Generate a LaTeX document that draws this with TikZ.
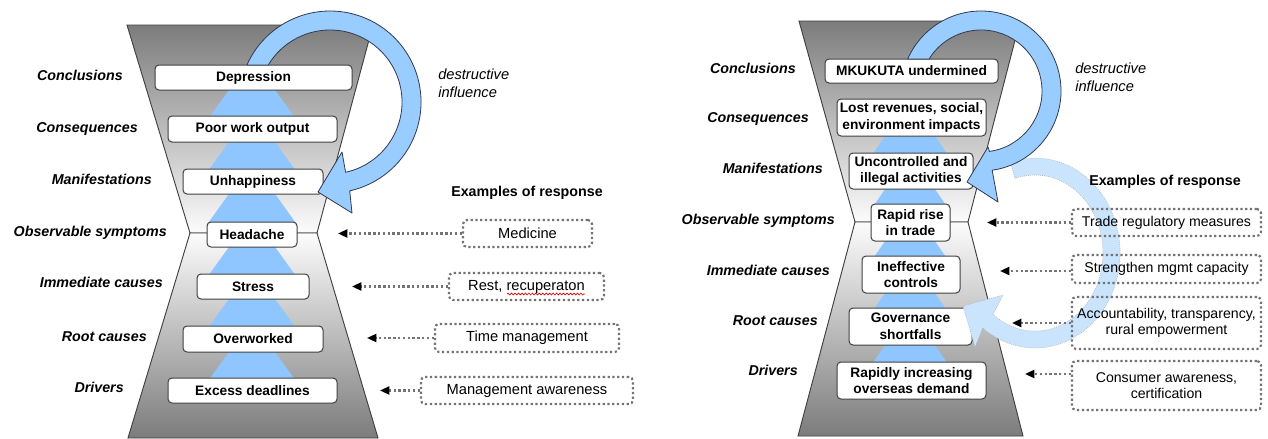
\documentclass[tikz,border=0pt]{standalone}
\usepackage{fontspec}
\setmainfont{Liberation Sans}
\usetikzlibrary{arrows.meta,decorations.pathmorphing,calc}
\definecolor{tblue}{RGB}{153,204,255}
\definecolor{triblue}{RGB}{143,198,255}
\definecolor{paleblue}{RGB}{202,228,253}
\definecolor{edgegray}{RGB}{64,64,64}
\definecolor{dotgray}{RGB}{115,115,115}
\definecolor{hgdark}{RGB}{124,124,124}
\definecolor{hglight}{RGB}{252,252,252}
\definecolor{arcline}{RGB}{50,58,80}
\newcommand{\tril}[3]{\fill[tri] (#1,{#2-32}) -- ({#1+0.72*(#3-#2+35)},{#3+3}) -- ({#1-0.72*(#3-#2+35)},{#3+3}) -- cycle;}
\newcommand{\trir}[3]{\fill[tri] (#1,{#2-36}) -- ({#1+0.69*(#3-#2+39)},{#3+3}) -- ({#1-0.69*(#3-#2+39)},{#3+3}) -- cycle;}
\begin{document}
\begin{tikzpicture}[x=0.75pt,y=-0.75pt,
  hg/.style={draw=edgegray,line width=0.7pt},
  tri/.style={fill=triblue},
  sz/.style 2 args={minimum width=#1*0.75pt,minimum height=#2*0.75pt},
  bx/.style={draw=edgegray,line width=0.75pt,fill=white,rounded corners=3pt,inner sep=0pt,align=center,font=\fontsize{10.3}{12.5}\selectfont\bfseries},
  lab/.style={anchor=east,font=\fontsize{10.7}{12}\selectfont\bfseries\itshape,inner sep=0pt,text height=1.5ex,text depth=.25ex},
  resp/.style={draw=dotgray,line width=1.6pt,dash pattern=on 1.7pt off 1.9pt,rounded corners=3pt,inner sep=0pt,align=center,font=\fontsize{11}{12.5}\selectfont},
  respr/.style={resp,font=\fontsize{10.6}{12.5}\selectfont},
  rarr/.style={draw=dotgray,line width=1.6pt,dash pattern=on 1.7pt off 1.9pt,-{Triangle[length=7pt,width=6pt,color=black]}},
  darc/.style={fill=tblue,draw=arcline,line width=0.6pt,line join=round},
  larc/.style={fill=paleblue,draw=black!30,line width=0.5pt,densely dotted},
  ex/.style={font=\fontsize{10.7}{12}\selectfont\bfseries,inner sep=0pt},
  di/.style={font=\fontsize{11}{13.5}\selectfont\itshape,align=left,anchor=north west,inner sep=0pt}
]
\useasboundingbox (0,0) rectangle (1268,439);
\fill[white] (0,0) rectangle (1268,439);

% ================= LEFT PANEL =================
\shadedraw[hg,top color=hgdark,bottom color=hglight] (127,25) -- (373,25) -- (317,233) -- (190,233) -- cycle;
\shadedraw[hg,top color=hglight,bottom color=hgdark] (190,233) -- (317,233) -- (378,438) -- (128,438) -- cycle;
\tril{252}{90}{116}
\tril{252}{142}{169}
\tril{252}{194}{222}
\tril{252}{247}{274}
\tril{252}{299}{326}
\tril{252}{352}{378}

\node[bx,sz={197}{25}] (L1) at (253.5,77.5) {Depression};
\node[bx,sz={169}{26}] (L2) at (252.5,129) {Poor work output};
\node[bx,sz={140}{25}] (L3) at (253,181.5) {Unhappiness};
\node[bx,sz={90}{25}]  (L4) at (252,234.5) {Headache};
\node[bx,sz={112}{25}] (L5) at (253,286.5) {Stress};
\node[bx,sz={140}{26}] (L6) at (253,339) {Overworked};
\node[bx,sz={169}{25}] (L7) at (252.5,390.5) {Excess deadlines};

\node[lab] (LC1) at (123,76) {Conclusions};
\node[lab] (LC2) at (138,128) {Consequences};
\node[lab] (LC3) at (152,180) {Manifestations};
\node[lab] (LC4) at (167,232) {Observable symptoms};
\node[lab] (LC5) at (163,283) {Immediate causes};
\node[lab] (LC6) at (147,337) {Root causes};
\node[lab] (LC7) at (124,388) {Drivers};

\node[di] (LD) at (438,69) {destructive\\influence};
\node[ex] (LEx) at (527,193) {Examples of response};

\node[resp,sz={129}{27}] (LR1) at (527.5,233.5) {Medicine};
\node[resp,sz={155}{27}] (LR2) at (526.5,286.5) {Rest, recuperaton};
\node[resp,sz={184}{28}] (LR3) at (527,338) {Time management};
\node[resp,sz={212}{27}] (LR4) at (527,390.5) {Management awareness};
\draw[red!85!black,line width=0.5pt,decorate,decoration={snake,amplitude=0.7pt,segment length=2.6pt}] (507,294) -- (585,294);

\coordinate (LT1) at (338,233.5);
\coordinate (LT2) at (352,286.5);
\coordinate (LT3) at (367,338);
\coordinate (LT4) at (380,390.5);
\draw[rarr] (LR1.west) -- (LT1);
\draw[rarr] (LR2.west) -- (LT2);
\draw[rarr] (LR3.west) -- (LT3);
\draw[rarr] (LR4.west) -- (LT4);

% circular destructive arrow (left)
\draw[darc] (246.9,65) arc[start angle=-156,end angle=77.5,radius=91]
  -- (352,213) -- (318,192) -- (342,152) -- (345.6,172.3)
  arc[start angle=77.5,end angle=-149.1,radius=72] -- cycle;

% ================= RIGHT PANEL =================
\shadedraw[hg,top color=hgdark,bottom color=hglight] (799,21) -- (1020,21) -- (968,222) -- (855,222) -- cycle;
\shadedraw[hg,top color=hglight,bottom color=hgdark] (855,222) -- (968,222) -- (1023,436) -- (798,436) -- cycle;
\trir{910}{136}{153}
\trir{910}{189}{204}
\trir{910}{241}{256}
\trir{910}{293}{308}
\trir{910}{345}{362}

\node[bx,sz={173}{24}] (R1) at (911.5,71) {MKUKUTA undermined};
\node[bx,sz={149}{37}] (R2) at (911.5,117.5) {Lost revenues, social,\\environment impacts};
\node[bx,sz={124}{36}] (R3) at (911,171) {Uncontrolled and\\illegal activities};
\node[bx,sz={79}{37}]  (R4) at (910.5,222.5) {Rapid rise\\in trade};
\node[bx,sz={98}{37}]  (R5) at (911,274.5) {Ineffective\\controls};
\node[bx,sz={123}{37}] (R6) at (910.5,326.5) {Governance\\shortfalls};
\node[bx,sz={149}{37}] (R7) at (911.5,380.5) {Rapidly increasing\\overseas demand};

% pale response arrow (right)
\draw[larc] (1010.2,162.2) arc[start angle=-107,end angle=128,x radius=85,y radius=95]
  -- (975,347) -- (963,306) -- (1003,295) -- (993.1,314.5)
  arc[start angle=128,end angle=-107,x radius=68,y radius=78] -- cycle;

\node[lab] (RC1) at (796,69) {Conclusions};
\node[lab] (RC2) at (809,118) {Consequences};
\node[lab] (RC3) at (823,169) {Manifestations};
\node[lab] (RC4) at (835,220) {Observable symptoms};
\node[lab] (RC5) at (830,271) {Immediate causes};
\node[lab] (RC6) at (818,321) {Root causes};
\node[lab] (RC7) at (798,371) {Drivers};

\node[di] (RD) at (1075,63) {destructive\\influence};
\node[ex] (REx) at (1165,182) {Examples of response};

\node[respr,sz={189}{27}] (RR1) at (1166.5,222.5) {Trade regulatory measures};
\node[respr,sz={189}{28}] (RR2) at (1166.5,269) {Strengthen mgmt capacity};
\node[respr,sz={189}{52}] (RR3) at (1166.5,323) {Accountability, transparency,\\rural empowerment};
\node[respr,sz={189}{49}] (RR4) at (1166.5,385.5) {Consumer awareness,\\certification};

\coordinate (RT1) at (987,222.5);
\coordinate (RT2) at (1000,271);
\coordinate (RT3) at (1012,323);
\coordinate (RT4) at (1025,374);
\draw[rarr] (RR1.west |- RT1) -- (RT1);
\draw[rarr] (RR2.west |- RT2) -- (RT2);
\draw[rarr] (RR3.west |- RT3) -- (RT3);
\draw[rarr] (RR4.west |- RT4) -- (RT4);

% circular destructive arrow (right)
\draw[darc] (907.7,59) arc[start angle=-156.42,end angle=82,radius=80]
  -- (998,202) -- (967,182) -- (988,147) -- (989.5,151.4)
  arc[start angle=82,end angle=-148.36,radius=61] -- cycle;
\end{tikzpicture}
\end{document}
